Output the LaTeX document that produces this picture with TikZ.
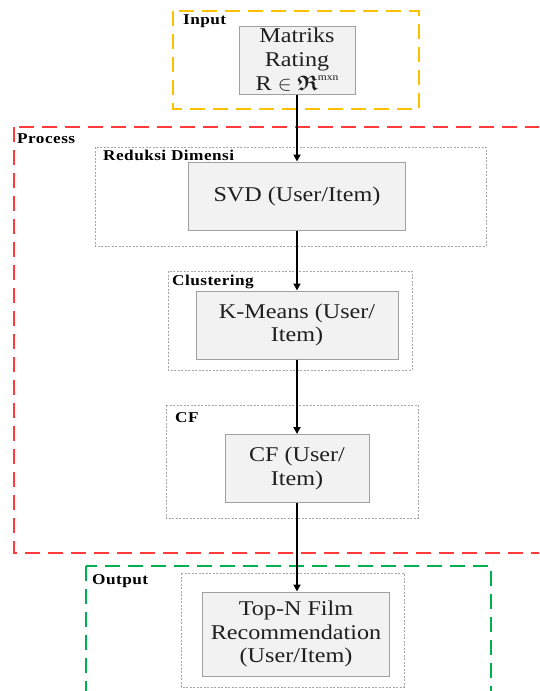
\documentclass[tikz,border=0pt]{standalone}
\usepackage{amsmath,amssymb}
\usepackage{fontspec}
\setmainfont{Liberation Serif}
\newfontfamily\boxfont[FakeStretch=1.15]{Liberation Serif}
\newfontfamily\labelfont[FakeStretch=1.15,LetterSpace=3]{Liberation Serif}
\usetikzlibrary{arrows.meta}
\definecolor{inyellow}{HTML}{FFC000}
\definecolor{procred}{HTML}{FF3B3B}
\definecolor{outgreen}{HTML}{00B050}
\definecolor{boxfill}{HTML}{F2F2F2}
\definecolor{boxline}{HTML}{A0A0A0}
\definecolor{dotgray}{HTML}{A6A6A6}
\begin{document}
\begin{tikzpicture}[x=1pt,y=-1pt,
  stagebox/.style={draw=boxline, line width=1pt, fill=boxfill, inner sep=0pt,
    font=\boxfont\fontsize{21}{23.5}\selectfont, align=center, text=black!88},
  groupframe/.style={draw=dotgray, line width=0.8pt, dash pattern=on 2pt off 1.5pt},
  phaseframe/.style={line width=2pt, dash pattern=on 15pt off 8pt},
  grouplabel/.style={anchor=west, inner sep=0pt, font=\labelfont\bfseries\fontsize{15}{17}\selectfont},
  flow/.style={-{Triangle[length=7pt,width=7pt]}, line width=1.8pt, black}
]
\useasboundingbox (0,0) rectangle (539,691);
\clip (0,0) rectangle (539,691);
\fill[white] (0,0) rectangle (539,691);

% phase frames
\draw[phaseframe, draw=inyellow] (173,11) rectangle (419,109);
\draw[phaseframe, draw=procred] (14,127) rectangle (610,553);
\draw[phaseframe, draw=outgreen] (86,566) rectangle (491,730);

% group frames
\draw[groupframe] (95,147) rectangle (486,246);
\draw[groupframe] (168,271) rectangle (412,370);
\draw[groupframe] (166,405) rectangle (418,518);
\draw[groupframe] (181,573) rectangle (404,687);

% labels
\node[grouplabel] (linput) at (183,21) {Input};
\node[grouplabel] (lprocess) at (17,139) {Process};
\node[grouplabel] (lreduksi) at (103,155) {Reduksi Dimensi};
\node[grouplabel] (lcluster) at (172,282) {Clustering};
\node[grouplabel] (lcf) at (175,418) {CF};
\node[grouplabel] (loutput) at (92,581) {Output};

% stage boxes
\node[stagebox, minimum width=116pt, minimum height=68pt] (matriks) at (297,60)
  {Matriks\\Rating\\[1pt]R $\in\boldsymbol{\mathfrak{R}}$\raisebox{0.5em}{\fontsize{10}{10}\selectfont mxn}};
\node[stagebox, minimum width=217pt, minimum height=68pt] (svd) at (297,196) {SVD (User/Item)};
\node[stagebox, minimum width=202pt, minimum height=68pt] (kmeans) at (297,325) {K-Means (User/\\Item)};
\node[stagebox, minimum width=144pt, minimum height=68pt] (cf) at (297,468.5) {CF (User/\\Item)};
\node[stagebox, minimum width=187pt, minimum height=84pt] (topn) at (296,634) {Top-N Film\\Recommendation\\(User/Item)};

% connectors
\draw[flow] (matriks.south) -- (matriks.south |- svd.north);
\draw[flow] (svd.south) -- (svd.south |- kmeans.north);
\draw[flow] (kmeans.south) -- (kmeans.south |- cf.north);
\draw[flow] (cf.south) -- (cf.south |- topn.north);
\end{tikzpicture}
\end{document}
